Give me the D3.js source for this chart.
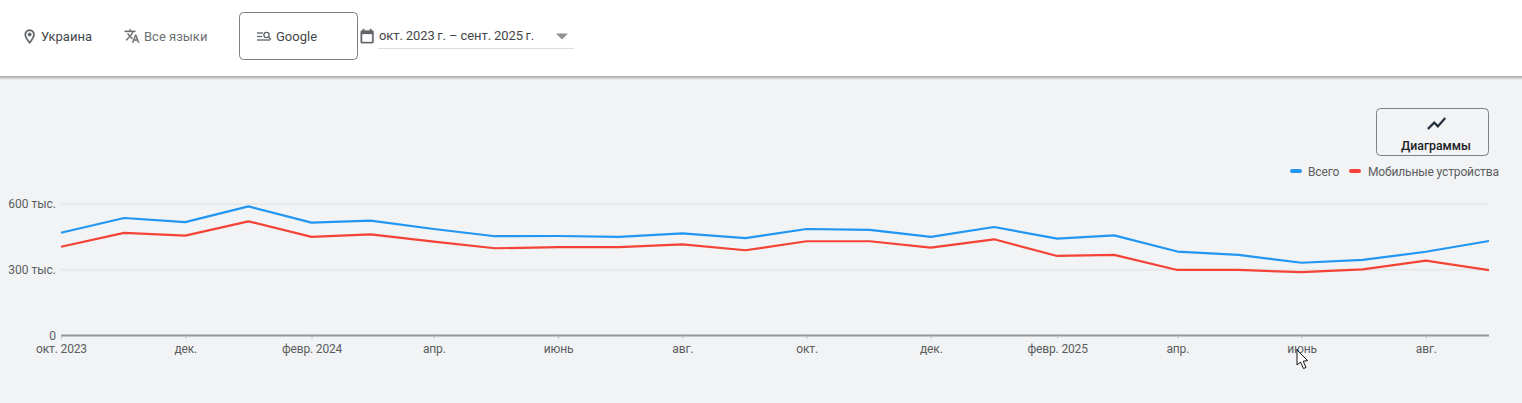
<!DOCTYPE html>
<html><head><meta charset="utf-8">
<script src="https://cdnjs.cloudflare.com/ajax/libs/d3/7.8.5/d3.min.js"></script>
<style>
html,body{margin:0;padding:0;background:#f1f3f4;overflow:hidden}
svg{display:block;font-family:Roboto,sans-serif}
</style></head><body><svg id="c" width="1522" height="403"></svg>
<script>
const months=["2023-10","2023-11","2023-12","2024-01","2024-02","2024-03","2024-04","2024-05","2024-06","2024-07","2024-08","2024-09","2024-10","2024-11","2024-12","2025-01","2025-02","2025-03","2025-04","2025-05","2025-06","2025-07","2025-08","2025-09"];
const totalValues=[469,536,517,589,515,524,486,453,454,450,466,444,486,482,450,495,442,457,383,368,332,345,382,431];
const mobileValues=[405,468,456,521,450,461,428,398,403,403,416,389,430,430,401,439,363,368,299,299,289,302,342,298];
const yTicks=[0,300,600];
const yLabels=["0","300 тыс.","600 тыс."];
const xTickMonths=["2023-10","2023-12","2024-02","2024-04","2024-06","2024-08","2024-10","2024-12","2025-02","2025-04","2025-06","2025-08"];
const xTickLabels=["окт. 2023","дек.","февр. 2024","апр.","июнь","авг.","окт.","дек.","февр. 2025","апр.","июнь","авг."];
const seriesNames=["Всего","Мобильные устройства"];
const seriesColors=["#2196f3","#f44336"];

const parse=d3.utcParse("%Y-%m");
const svg=d3.select("#c");
const x=d3.scaleUtc().domain([parse(months[0]),parse(months[months.length-1])]).range([61,1489]);
const y=d3.scaleLinear().domain([0,600]).range([335.5,204]);

// header
const defs=svg.append("defs");
const f=defs.append("linearGradient").attr("id","sh").attr("x1",0).attr("x2",0).attr("y1",0).attr("y2",1);
f.append("stop").attr("offset",0).attr("stop-color","#8f9193");
f.append("stop").attr("offset",1).attr("stop-color","#f1f3f4");
svg.append("rect").attr("x",0).attr("y",0).attr("width",1522).attr("height",403).attr("fill","#f1f3f4");
svg.append("rect").attr("x",0).attr("y",75).attr("width",1522).attr("height",5).attr("fill","url(#sh)");
svg.append("rect").attr("x",0).attr("y",0).attr("width",1522).attr("height",76).attr("fill","#fff");

function icon(d,tx,ty,col,s){svg.append("path").attr("d",d).attr("fill",col).attr("stroke",col).attr("stroke-width",0.4).attr("transform",`translate(${tx},${ty}) scale(${s||0.667})`);}
const pin="M12 2C8.13 2 5 5.13 5 9c0 5.25 7 13 7 13s7-7.75 7-13c0-3.87-3.13-7-7-7zM7 9c0-2.76 2.24-5 5-5s5 2.24 5 5c0 2.88-2.88 7.19-5 9.88C9.92 16.21 7 11.85 7 9zM12 6.5a2.5 2.5 0 1 0 0 5 2.5 2.5 0 0 0 0-5z";
const translate="M12.87 15.07l-2.54-2.51.03-.03c1.74-1.94 2.98-4.17 3.71-6.53H17V4h-7V2H8v2H1v1.99h11.17C11.5 7.92 10.44 9.75 9 11.35 8.07 10.32 7.3 9.19 6.69 8h-2c.73 1.63 1.73 3.17 2.98 4.56l-5.09 5.02L4 19l5-5 3.11 3.11.76-2.04zM18.5 10h-2L12 22h2l1.12-3h4.75L21 22h2l-4.5-12zm-2.62 7l1.62-4.33L19.12 17h-3.24z";
const calendar="M19 4h-1V2h-2v2H8V2H6v2H5c-1.11 0-2 .9-2 2v14c0 1.1.89 2 2 2h14c1.1 0 2-.9 2-2V6c0-1.1-.9-2-2-2zm0 16H5V9h14v11z";
const trend="M3.5 18.49l6-6.01 4 4L22 6.92l-1.41-1.41-7.09 7.97-4-4L2 16.99z";
icon(pin,21,28,"#5f6368",0.72);
icon(translate,124,28,"#6f6f6f",0.667);
icon(calendar,358.5,27.5,"#5f6368",0.72);

const hText=(t,xp,yp,col,size,weight,anchor)=>svg.append("text").attr("x",xp).attr("y",yp).attr("fill",col).attr("font-size",size).attr("font-weight",weight||400).attr("text-anchor",anchor||"start").text(t);
hText("Украина",41,41,"#44474a",13);
hText("Все языки",144,41,"#6b6f73",13);
svg.append("rect").attr("x",239.5).attr("y",12.5).attr("width",118).attr("height",47).attr("rx",4).attr("fill","#fff").attr("stroke","#7c8185");
// search-list glyph
const g=svg.append("g").attr("stroke","#5f6368").attr("fill","none").attr("stroke-width",1.3);
[[257,263,33],[257,262,36.5],[257,270,40]].forEach(a=>g.append("line").attr("x1",a[0]).attr("x2",a[1]).attr("y1",a[2]).attr("y2",a[2]));
g.append("circle").attr("cx",266.5).attr("cy",35).attr("r",2.6);
g.append("line").attr("x1",268.5).attr("y1",37).attr("x2",271).attr("y2",39.5);
hText("Google",276,41,"#44474a",13);
hText("окт. 2023\u2009г. – сент. 2025\u2009г.",379,40,"#44474a",13).attr("letter-spacing",-0.1);
svg.append("path").attr("d",d3.line()([[556,33.5],[568,33.5],[562,39.5]])+"Z").attr("fill","#8d8f92");
svg.append("line").attr("x1",378).attr("x2",574).attr("y1",48.5).attr("y2",48.5).attr("stroke","#dadce0");

// button
svg.append("rect").attr("x",1376.5).attr("y",108.5).attr("width",112).attr("height",47).attr("rx",4).attr("fill","#f1f3f4").attr("stroke","#7c8185");
svg.append("path").attr("d",trend).attr("fill","#1f2a37").attr("stroke","#1f2a37").attr("stroke-width",0.5).attr("transform","translate(1425.5,112.5) scale(0.92)");
hText("Диаграммы",1436,150,"#202124",12.3,500,"middle");

// legend
const lx=[1290,1349], ltx=[1308,1368];
seriesNames.forEach((n,i)=>{
  svg.append("rect").attr("x",lx[i]).attr("y",169).attr("width",12).attr("height",4).attr("rx",2).attr("fill",seriesColors[i]);
  hText(n,ltx[i],176,"#5a5d60",12).attr("letter-spacing",-0.13);
});

// grid
svg.append("g").selectAll("line").data(yTicks.filter(d=>d>0)).join("line")
  .attr("x1",61).attr("x2",1489).attr("y1",d=>y(d)).attr("y2",d=>y(d)).attr("stroke","#e8e9eb").attr("stroke-width",2);

// y axis
const yAxis=d3.axisLeft(y).tickValues(yTicks).tickSize(0).tickPadding(5).tickFormat((d,i)=>yLabels[i]);
const yg=svg.append("g").attr("transform","translate(61,0)").call(yAxis);
yg.select(".domain").remove();
yg.selectAll("text").attr("font-family","Roboto,sans-serif").attr("font-size",12).attr("fill","#5a5d60");

// x axis
const xAxis=d3.axisBottom(x).tickValues(xTickMonths.map(parse)).tickSize(3).tickPadding(4).tickFormat((d,i)=>xTickLabels[i]);
const xg=svg.append("g").attr("transform","translate(0,335.5)").call(xAxis);
xg.select(".domain").attr("stroke","#949596").attr("stroke-width",2).attr("d","M61,0H1489");
xg.selectAll(".tick line").attr("stroke","#b5b6b8");
xg.selectAll("text").attr("font-family","Roboto,sans-serif").attr("font-size",12).attr("letter-spacing",-0.15).attr("fill","#5a5d60").attr("dy","0.85em");

// lines
const line=d3.line().x((d,i)=>x(parse(months[i]))).y(d=>y(d));
[totalValues,mobileValues].forEach((v,i)=>{
  svg.append("path").attr("d",line(v)).attr("fill","none").attr("stroke",seriesColors[i]).attr("stroke-width",2.2).attr("stroke-linejoin","round");
});

// mouse cursor
svg.append("path").attr("d","M1297 350V365L1300.5 362L1303.5 368.5L1306 367.5L1303.2 361.2L1307.6 360.6Z").attr("fill","#fff").attr("stroke","#111").attr("stroke-width",1);
</script></body></html>
